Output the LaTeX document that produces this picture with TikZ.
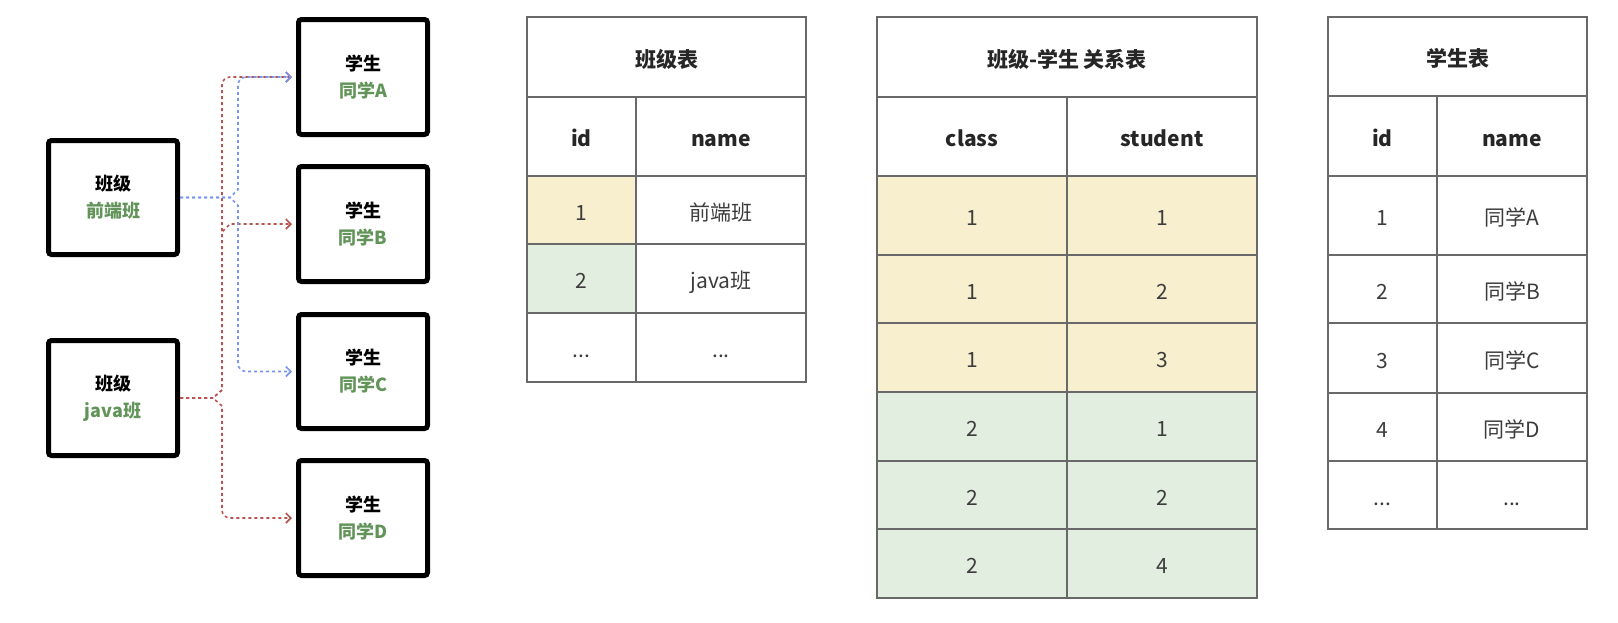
\documentclass[tikz,border=0pt]{standalone}
\usepackage{fontspec}
\setmainfont{Noto Sans CJK SC}
\usetikzlibrary{arrows.meta}

\definecolor{linkred}{RGB}{184,84,80}
\definecolor{linkblue}{RGB}{120,150,238}
\definecolor{namegreen}{RGB}{98,148,90}
\definecolor{rowyel}{RGB}{248,239,207}
\definecolor{rowgrn}{RGB}{226,238,223}
\definecolor{cellline}{RGB}{105,105,105}
\definecolor{celltext}{RGB}{60,60,60}

\tikzset{
  box/.style={draw=black,line width=5pt,rounded corners=3pt,minimum width=129pt,
    inner sep=0pt,align=center,font=\fontsize{18}{27}\selectfont\bfseries},
  cell/.style={draw=cellline,line width=1.5pt,anchor=north west,inner sep=0pt,outer sep=0pt,
    text height=20pt,text depth=0pt,font=\fontsize{21}{24}\selectfont,text=celltext},
  head/.style={cell,font=\fontsize{21}{24}\selectfont\bfseries,text=black!85},
  link/.style={line width=1.6pt,dash pattern=on 3pt off 3pt,
    -{Straight Barb[length=5pt,width=10pt]},shorten >=4pt},
}

\begin{document}
\begin{tikzpicture}[x=1pt,y=-1pt]
\useasboundingbox (0,0) rectangle (1618,622);

% class and student boxes
\node[box,minimum height=114pt] (k1) at (113,197.5) {班级\\\textcolor{namegreen}{前端班}};
\node[box,minimum height=115pt] (k2) at (113,398) {班级\\\textcolor{namegreen}{java班}};
\node[box,minimum height=115pt] (sA) at (363,77) {学生\\\textcolor{namegreen}{同学A}};
\node[box,minimum height=115pt] (sB) at (363,224) {学生\\\textcolor{namegreen}{同学B}};
\node[box,minimum height=114pt] (sC) at (363,371.5) {学生\\\textcolor{namegreen}{同学C}};
\node[box,minimum height=115pt] (sD) at (363,518) {学生\\\textcolor{namegreen}{同学D}};

\coordinate (bj) at (230,197.5);
\coordinate (rj) at (213,398);

% links
\draw[link,linkred] (k2.east) -- (rj) -- ++(9,-8) [rounded corners=8pt] |- (sA.west);
\draw[link,linkred] (k2.east) -- (rj) -- ++(9,-8) -- (222,232) -- (230,224) -- (sB.west);
\draw[link,linkred] (k2.east) -- (rj) -- ++(9,8) [rounded corners=8pt] |- (sD.west);
\draw[link,linkblue] (k1.east) -- (bj) -- ++(8,-8) [rounded corners=8pt] |- (sA.west);
\draw[link,linkblue] (k1.east) -- (bj) -- ++(8,8) [rounded corners=8pt] |- (sC.west);

% class table
\node[head,minimum width=279pt,minimum height=80pt] (cls) at (527,17) {班级表};
\node[head,minimum width=109pt,minimum height=79pt] (clsid) at (527,97) {id};
\node[head,minimum width=170pt,minimum height=79pt] (clsname) at (636,97) {name};
\node[cell,fill=rowyel,minimum width=109pt,minimum height=68pt] (cls1a) at (527,176) {1};
\node[cell,minimum width=170pt,minimum height=68pt] (cls1b) at (636,176) {前端班};
\node[cell,fill=rowgrn,minimum width=109pt,minimum height=69pt] (cls2a) at (527,244) {2};
\node[cell,minimum width=170pt,minimum height=69pt] (cls2b) at (636,244) {java班};
\node[cell,minimum width=109pt,minimum height=69pt] (cls3a) at (527,313) {...};
\node[cell,minimum width=170pt,minimum height=69pt] (cls3b) at (636,313) {...};

% relation table
\node[head,minimum width=380pt,minimum height=80pt] (rel) at (877,17) {班级-学生 关系表};
\node[head,minimum width=190pt,minimum height=79pt] (relcls) at (877,97) {class};
\node[head,minimum width=190pt,minimum height=79pt] (relstu) at (1067,97) {student};
\node[cell,fill=rowyel,minimum width=190pt,minimum height=79pt] (rel1a) at (877,176) {1};
\node[cell,fill=rowyel,minimum width=190pt,minimum height=79pt] (rel1b) at (1067,176) {1};
\node[cell,fill=rowyel,minimum width=190pt,minimum height=68pt] (rel2a) at (877,255) {1};
\node[cell,fill=rowyel,minimum width=190pt,minimum height=68pt] (rel2b) at (1067,255) {2};
\node[cell,fill=rowyel,minimum width=190pt,minimum height=69pt] (rel3a) at (877,323) {1};
\node[cell,fill=rowyel,minimum width=190pt,minimum height=69pt] (rel3b) at (1067,323) {3};
\node[cell,fill=rowgrn,minimum width=190pt,minimum height=69pt] (rel4a) at (877,392) {2};
\node[cell,fill=rowgrn,minimum width=190pt,minimum height=69pt] (rel4b) at (1067,392) {1};
\node[cell,fill=rowgrn,minimum width=190pt,minimum height=68pt] (rel5a) at (877,461) {2};
\node[cell,fill=rowgrn,minimum width=190pt,minimum height=68pt] (rel5b) at (1067,461) {2};
\node[cell,fill=rowgrn,minimum width=190pt,minimum height=69pt] (rel6a) at (877,529) {2};
\node[cell,fill=rowgrn,minimum width=190pt,minimum height=69pt] (rel6b) at (1067,529) {4};

% student table
\node[head,minimum width=259pt,minimum height=79pt] (stu) at (1328,17) {学生表};
\node[head,minimum width=109pt,minimum height=80pt] (stuid) at (1328,96) {id};
\node[head,minimum width=150pt,minimum height=80pt] (stuname) at (1437,96) {name};
\node[cell,minimum width=109pt,minimum height=79pt] (stu1a) at (1328,176) {1};
\node[cell,minimum width=150pt,minimum height=79pt] (stu1b) at (1437,176) {同学A};
\node[cell,minimum width=109pt,minimum height=68pt] (stu2a) at (1328,255) {2};
\node[cell,minimum width=150pt,minimum height=68pt] (stu2b) at (1437,255) {同学B};
\node[cell,minimum width=109pt,minimum height=70pt] (stu3a) at (1328,323) {3};
\node[cell,minimum width=150pt,minimum height=70pt] (stu3b) at (1437,323) {同学C};
\node[cell,minimum width=109pt,minimum height=68pt] (stu4a) at (1328,393) {4};
\node[cell,minimum width=150pt,minimum height=68pt] (stu4b) at (1437,393) {同学D};
\node[cell,minimum width=109pt,minimum height=68pt] (stu5a) at (1328,461) {...};
\node[cell,minimum width=150pt,minimum height=68pt] (stu5b) at (1437,461) {...};
\end{tikzpicture}
\end{document}
